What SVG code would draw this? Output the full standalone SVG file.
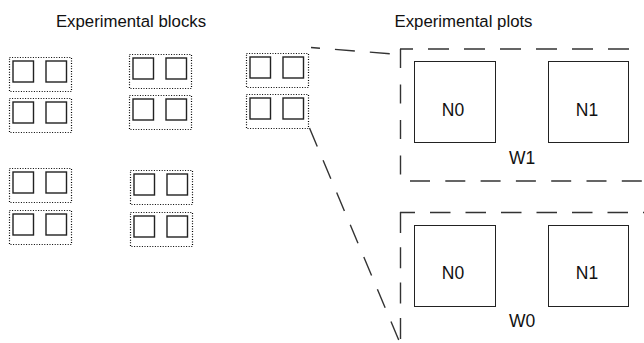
<svg xmlns="http://www.w3.org/2000/svg" width="644" height="343" viewBox="0 0 644 343">
  <style>
    .title { font-family: "Liberation Sans", Arial, sans-serif; font-size: 16.8px; fill: #111; text-anchor: middle; }
    .lbl { font-family: "Liberation Sans", Arial, sans-serif; font-size: 17.5px; fill: #111; text-anchor: middle; }
    .blk { fill: none; stroke: #000; stroke-width: 1.2; stroke-dasharray: 1 1.6; }
    .cell { fill: #fff; stroke: #222; stroke-width: 1.4; }
    .plot { fill: #fff; stroke: #222; stroke-width: 1; }
    .dash { fill: none; stroke: #333; stroke-width: 1.4; }
  </style>
  <defs>
    <!-- one block: dotted outline holding two cells -->
    <g id="block">
      <rect class="blk" x="0.5" y="0.5" width="62" height="34"/>
      <rect class="cell" x="4" y="4" width="20.5" height="21"/>
      <rect class="cell" x="37" y="4" width="20.5" height="21"/>
    </g>
  </defs>

  <rect width="644" height="343" fill="#fff"/>

  <text class="title" x="131" y="27">Experimental blocks</text>
  <text class="title" x="463.5" y="27">Experimental plots</text>

  <!-- experimental blocks -->
  <g id="block-1a"><use href="#block" x="9" y="57"/></g>
  <g id="block-1b"><use href="#block" x="9" y="98"/></g>
  <g id="block-2a"><use href="#block" x="129" y="54"/></g>
  <g id="block-2b"><use href="#block" x="129" y="95"/></g>
  <g id="block-3a"><use href="#block" x="246" y="53"/></g>
  <g id="block-3b"><use href="#block" x="246" y="94"/></g>
  <g id="block-4a"><use href="#block" x="9" y="168"/></g>
  <g id="block-4b"><use href="#block" x="9" y="210"/></g>
  <g id="block-5a"><use href="#block" x="130" y="170"/></g>
  <g id="block-5b"><use href="#block" x="130" y="212"/></g>

  <!-- zoom lines from the selected block to the plot panels -->
  <g id="connectors">
    <path class="dash" d="M311,47.5 L400,54.5" stroke-dasharray="20 15" stroke-dashoffset="11"/>
    <path class="dash" d="M309.5,128 L400,343" stroke-dasharray="20 15"/>
  </g>

  <!-- plot panel W1 -->
  <g id="panel-w1">
    <path class="dash" d="M400.5,49 L400.5,175" stroke-dasharray="19 16.5"/>
    <path class="dash" d="M400,49 L650,49" stroke-dasharray="21 15" stroke-dashoffset="8"/>
    <path class="dash" d="M410,181 L650,181" stroke-dasharray="20 15.3"/>
    <rect class="plot" x="414.5" y="61.5" width="81" height="81"/>
    <rect class="plot" x="548.5" y="61.5" width="80" height="81"/>
    <text class="lbl" x="453" y="115.5">N0</text>
    <text class="lbl" x="587" y="115.5">N1</text>
    <text class="lbl" x="522" y="163.5">W1</text>
  </g>

  <!-- plot panel W0 -->
  <g id="panel-w0">
    <path class="dash" d="M400.5,212 L400.5,343" stroke-dasharray="21 14.3"/>
    <path class="dash" d="M400,212.5 L650,212.5" stroke-dasharray="20.5 15" stroke-dashoffset="5.5"/>
    <rect class="plot" x="414.5" y="225.5" width="81" height="81"/>
    <rect class="plot" x="548.5" y="225.5" width="80" height="81"/>
    <text class="lbl" x="453" y="278.5">N0</text>
    <text class="lbl" x="587" y="278.5">N1</text>
    <text class="lbl" x="522" y="326.5">W0</text>
  </g>
</svg>
